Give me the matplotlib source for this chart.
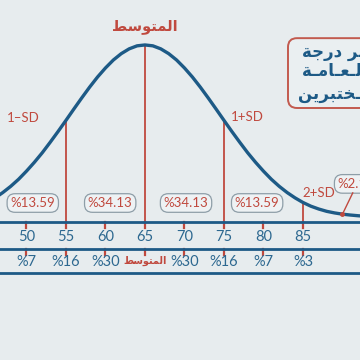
"""منحنى التوزيع الطبيعي لدرجات المختبرين."""
import matplotlib
import matplotlib.pyplot as plt
from matplotlib.patches import FancyBboxPatch

matplotlib.use("Agg")

# البيانات
CURVE_X = list(range(46, 94))
CURVE_H = [13.5, 16.6, 20.1, 24.1, 28.7, 33.7, 39.1, 45.0, 51.1, 57.4,
           63.8, 70.1, 76.2, 81.9, 87.0, 91.5, 95.1, 97.8, 99.5, 100.0,
           99.5, 97.8, 95.1, 91.5, 87.0, 81.9, 76.2, 70.1, 63.8, 57.4,
           51.1, 45.0, 39.1, 33.7, 28.7, 24.1, 20.1, 16.6, 13.6, 11.0,
           8.9, 7.3, 6.0, 5.1, 4.4, 3.9, 3.5, 3.2]
SCORES = [50, 55, 60, 65, 70, 75, 80, 85]
PERCENTILES = ["%7", "%16", "%30", "MEAN", "%30", "%16", "%7", "%3"]
SD_MARKS = [55, 65, 75, 85]
SD_LABELS = ["1\u2013SD", "", "1+SD", "2+SD"]
BAND_LABELS = ["%13.59", "%34.13", "%34.13", "%13.59"]
BAND_CENTERS = [50.8, 60.6, 70.2, 79.2]
TAIL_LABEL = "%2.14"
TAIL_X = 90

# النص العربي بأشكال العرض (ترتيب بصري)
AR_MEAN = "\uFEC2\uFEB3\uFEEE\uFE98\uFEE4\uFEDF\uFE8D"
AR_LINE1 = "\uFE94\uFE9F\uFEAD\uFEA9 \uFEAE\uFEF4\uFEB4\uFED4\uFE97"
AR_LINE2 = ("\uFE94\u0640\uFEE3\uFE8E\u0640\uFECC\u0640\uFEDF\uFE8D "
            "\uFE93\uFEAD\uFEAA\uFED8\uFEDF\uFE8D")
AR_LINE3 = "\uFEE6\uFEF3\uFEAE\uFE92\uFE98\uFEA8\u0640\uFEE4\uFEE0\uFEDF"

BG = "#e7ecee"
BLUE = "#1d5a86"
TXT_BLUE = "#2d6890"
RED = "#c0493e"
NUM_FONT = ["Lato", "DejaVu Sans"]
AR_FONT = ["DejaVu Sans"]

height = dict(zip(CURVE_X, CURVE_H))

fig = plt.figure(figsize=(3.6, 3.6), dpi=100, facecolor=BG)
ax = fig.add_axes([0, 0, 1, 1])
ax.set_facecolor(BG)
ax.set_xlim(46.65, 92.22)
ax.set_ylim(-78, 125.4)
ax.axis("off")

# خطوط الشريط السفلي
for yl in (0, -15.25, -28.8):
    ax.axhline(yl, color=BLUE, lw=2.0, zorder=3)

# خطوط الانحراف المعياري
for xm in SD_MARKS:
    ax.plot([xm, xm], [-3, height[xm]], color=RED, lw=1.3, zorder=2)

# علامات صغيرة
for s in SCORES:
    ax.plot([s, s], [0, -3.2], color=RED, lw=1.6, zorder=2)
    ax.plot([s, s], [-15.25, -18.4], color=RED, lw=1.6, zorder=2)

# المنحنى
ax.plot(CURVE_X, CURVE_H, color=BLUE, lw=2.4, zorder=4, solid_capstyle="round")

# أرقام الدرجات والنسب
for s, p in zip(SCORES, PERCENTILES):
    ax.text(s, -8.6, str(s), ha="center", va="center", fontsize=10.5,
            color=TXT_BLUE, family=NUM_FONT)
    if p == "MEAN":
        ax.text(s, -22.0, AR_MEAN, ha="center", va="center", fontsize=7,
                color=RED, family=AR_FONT, fontweight="bold")
    else:
        ax.text(s, -22.6, p, ha="center", va="center", fontsize=10.5,
                color=TXT_BLUE, family=NUM_FONT)

# نسب المساحات
box = dict(boxstyle="round,pad=0.25,rounding_size=0.6", fc="#eef2f4",
           ec="#8e9ea8", lw=0.9)
for xc, lab in zip(BAND_CENTERS, BAND_LABELS):
    ax.text(xc, 10.7, lab, ha="center", va="center", fontsize=9.5,
            color=RED, family=NUM_FONT, bbox=box)

# تسميات SD
sd_pos = {55: (49.6, 58.8), 75: (77.9, 59.3), 85: (87.0, 16.4)}
for xm, lab in zip(SD_MARKS, SD_LABELS):
    if lab:
        ax.text(*sd_pos[xm], lab, ha="center", va="center", fontsize=9.5,
                color=RED, family=NUM_FONT)

ax.text(65, 110.7, AR_MEAN, ha="center", va="center", fontsize=10.5,
        color=RED, family=AR_FONT, fontweight="bold")

# الذيل الأيمن
ax.plot([TAIL_X, 91.3], [height[TAIL_X], 16.4], color=RED, lw=1.0, zorder=5)
ax.plot([TAIL_X], [height[TAIL_X]], "o", color=RED, ms=2.5, zorder=5)
ax.text(89.4, 21.5, TAIL_LABEL, ha="left", va="center", fontsize=9.5,
        color=RED, family=NUM_FONT, bbox=box)

# صندوق العنوان
title_box = FancyBboxPatch((0.80, 0.70), 0.3, 0.194, transform=ax.transAxes,
                           boxstyle="round,pad=0,rounding_size=0.025",
                           fc="#eaeff1", ec="#c25a4e", lw=1.4, clip_on=False)
ax.add_patch(title_box)
for yy, line, xx in ((0.856, AR_LINE1, 0.838), (0.803, AR_LINE2, 0.838),
                     (0.739, AR_LINE3, 0.829)):
    ax.text(xx, yy, line, transform=ax.transAxes, ha="left", va="center",
            fontsize=12, color=BLUE, family=AR_FONT, fontweight="bold")

fig.savefig("out.png", dpi=100, facecolor=BG)
